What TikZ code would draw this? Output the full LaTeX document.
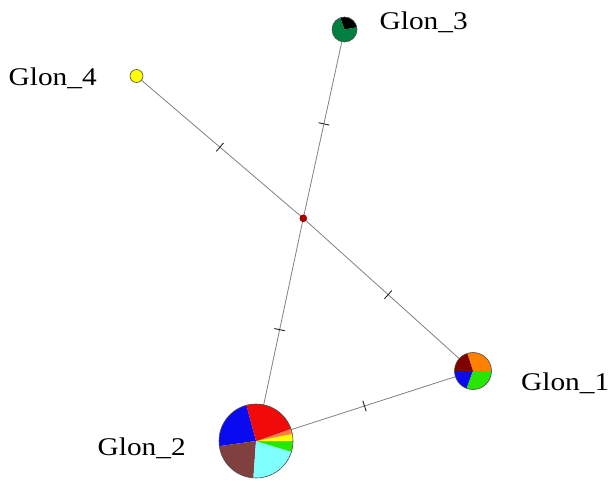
\documentclass[tikz,border=0pt]{standalone}
\usepackage{fontspec}
\setmainfont{Liberation Serif}[FakeStretch=1.15]
\usetikzlibrary{calc}
\definecolor{pblue}{RGB}{10,10,240}
\definecolor{pred}{RGB}{240,10,10}
\definecolor{porange}{RGB}{255,128,64}
\definecolor{pyellow}{RGB}{255,255,0}
\definecolor{pgreen}{RGB}{40,230,0}
\definecolor{pcyan}{RGB}{128,255,255}
\definecolor{pbrown}{RGB}{128,64,64}
\definecolor{pmaroon}{RGB}{128,0,0}
\definecolor{porangeb}{RGB}{255,128,0}
\definecolor{pdkgreen}{RGB}{0,128,64}
\definecolor{pmedian}{RGB}{170,0,0}

\begin{document}
\begin{tikzpicture}[x=1pt, y=1pt,
  edge/.style={draw=black!50, line width=0.8pt},
  tick/.style={sloped, draw=black!85, line width=0.9pt, minimum height=11pt, minimum width=0pt, inner sep=0pt},
  rim/.style={draw=black!70, line width=0.6pt},
  lbl/.style={font=\fontsize{25.5}{30}\selectfont, anchor=base west, inner sep=0pt}]
\useasboundingbox (0,0) rectangle (613,480);
% haplotypes and the median vector
\coordinate (g1) at (473,109);
\coordinate (g2) at (256,39);
\coordinate (g3) at (344.5,450.5);
\coordinate (g4) at (136.5,404);
\coordinate (med) at (303.3,261.7);
% one mutation on every branch
\draw[edge] (g3) -- node[tick]{} (med);
\draw[edge] (g4) -- node[tick]{} (med);
\draw[edge] (med) -- node[tick]{} (g2);
\draw[edge] (med) -- node[tick]{} (g1);
\draw[edge] (g1) -- node[tick]{} (g2);
% pie charts
\foreach \a/\b/\c in {105/188/pblue, 188/266/pbrown, 266/343/pcyan, 343/360/pgreen, 0/11/pyellow, 11/19/porange, 19/105/pred} {
    \fill[\c] (g2) -- ++(\a:37) arc[start angle=\a, end angle=\b, radius=37] -- cycle;
}
\draw[rim] (g2) circle (37);
\foreach \a/\b/\c in {0/108/porangeb, 108/180/pmaroon, 180/250/pblue, 250/360/pgreen} {
    \fill[\c] (g1) -- ++(\a:18.5) arc[start angle=\a, end angle=\b, radius=18.5] -- cycle;
}
\draw[rim] (g1) circle (18.5);
\foreach \a/\b/\c in {10/110/black, 110/370/pdkgreen} {
    \fill[\c] (g3) -- ++(\a:12.5) arc[start angle=\a, end angle=\b, radius=12.5] -- cycle;
}
\draw[rim] (g3) circle (12.5);
\filldraw[pyellow, rim] (g4) circle (6.5);
\filldraw[fill=pmedian, draw=pmedian!70!black, line width=0.4pt] (med) circle (3.5);
% labels
\node[lbl] (l1) at (521,90) {Glon\_1};
\node[lbl] (l2) at (97.5,24.3) {Glon\_2};
\node[lbl] (l3) at (379.5,450.7) {Glon\_3};
\node[lbl] (l4) at (8.5,394.3) {Glon\_4};
\end{tikzpicture}
\end{document}
